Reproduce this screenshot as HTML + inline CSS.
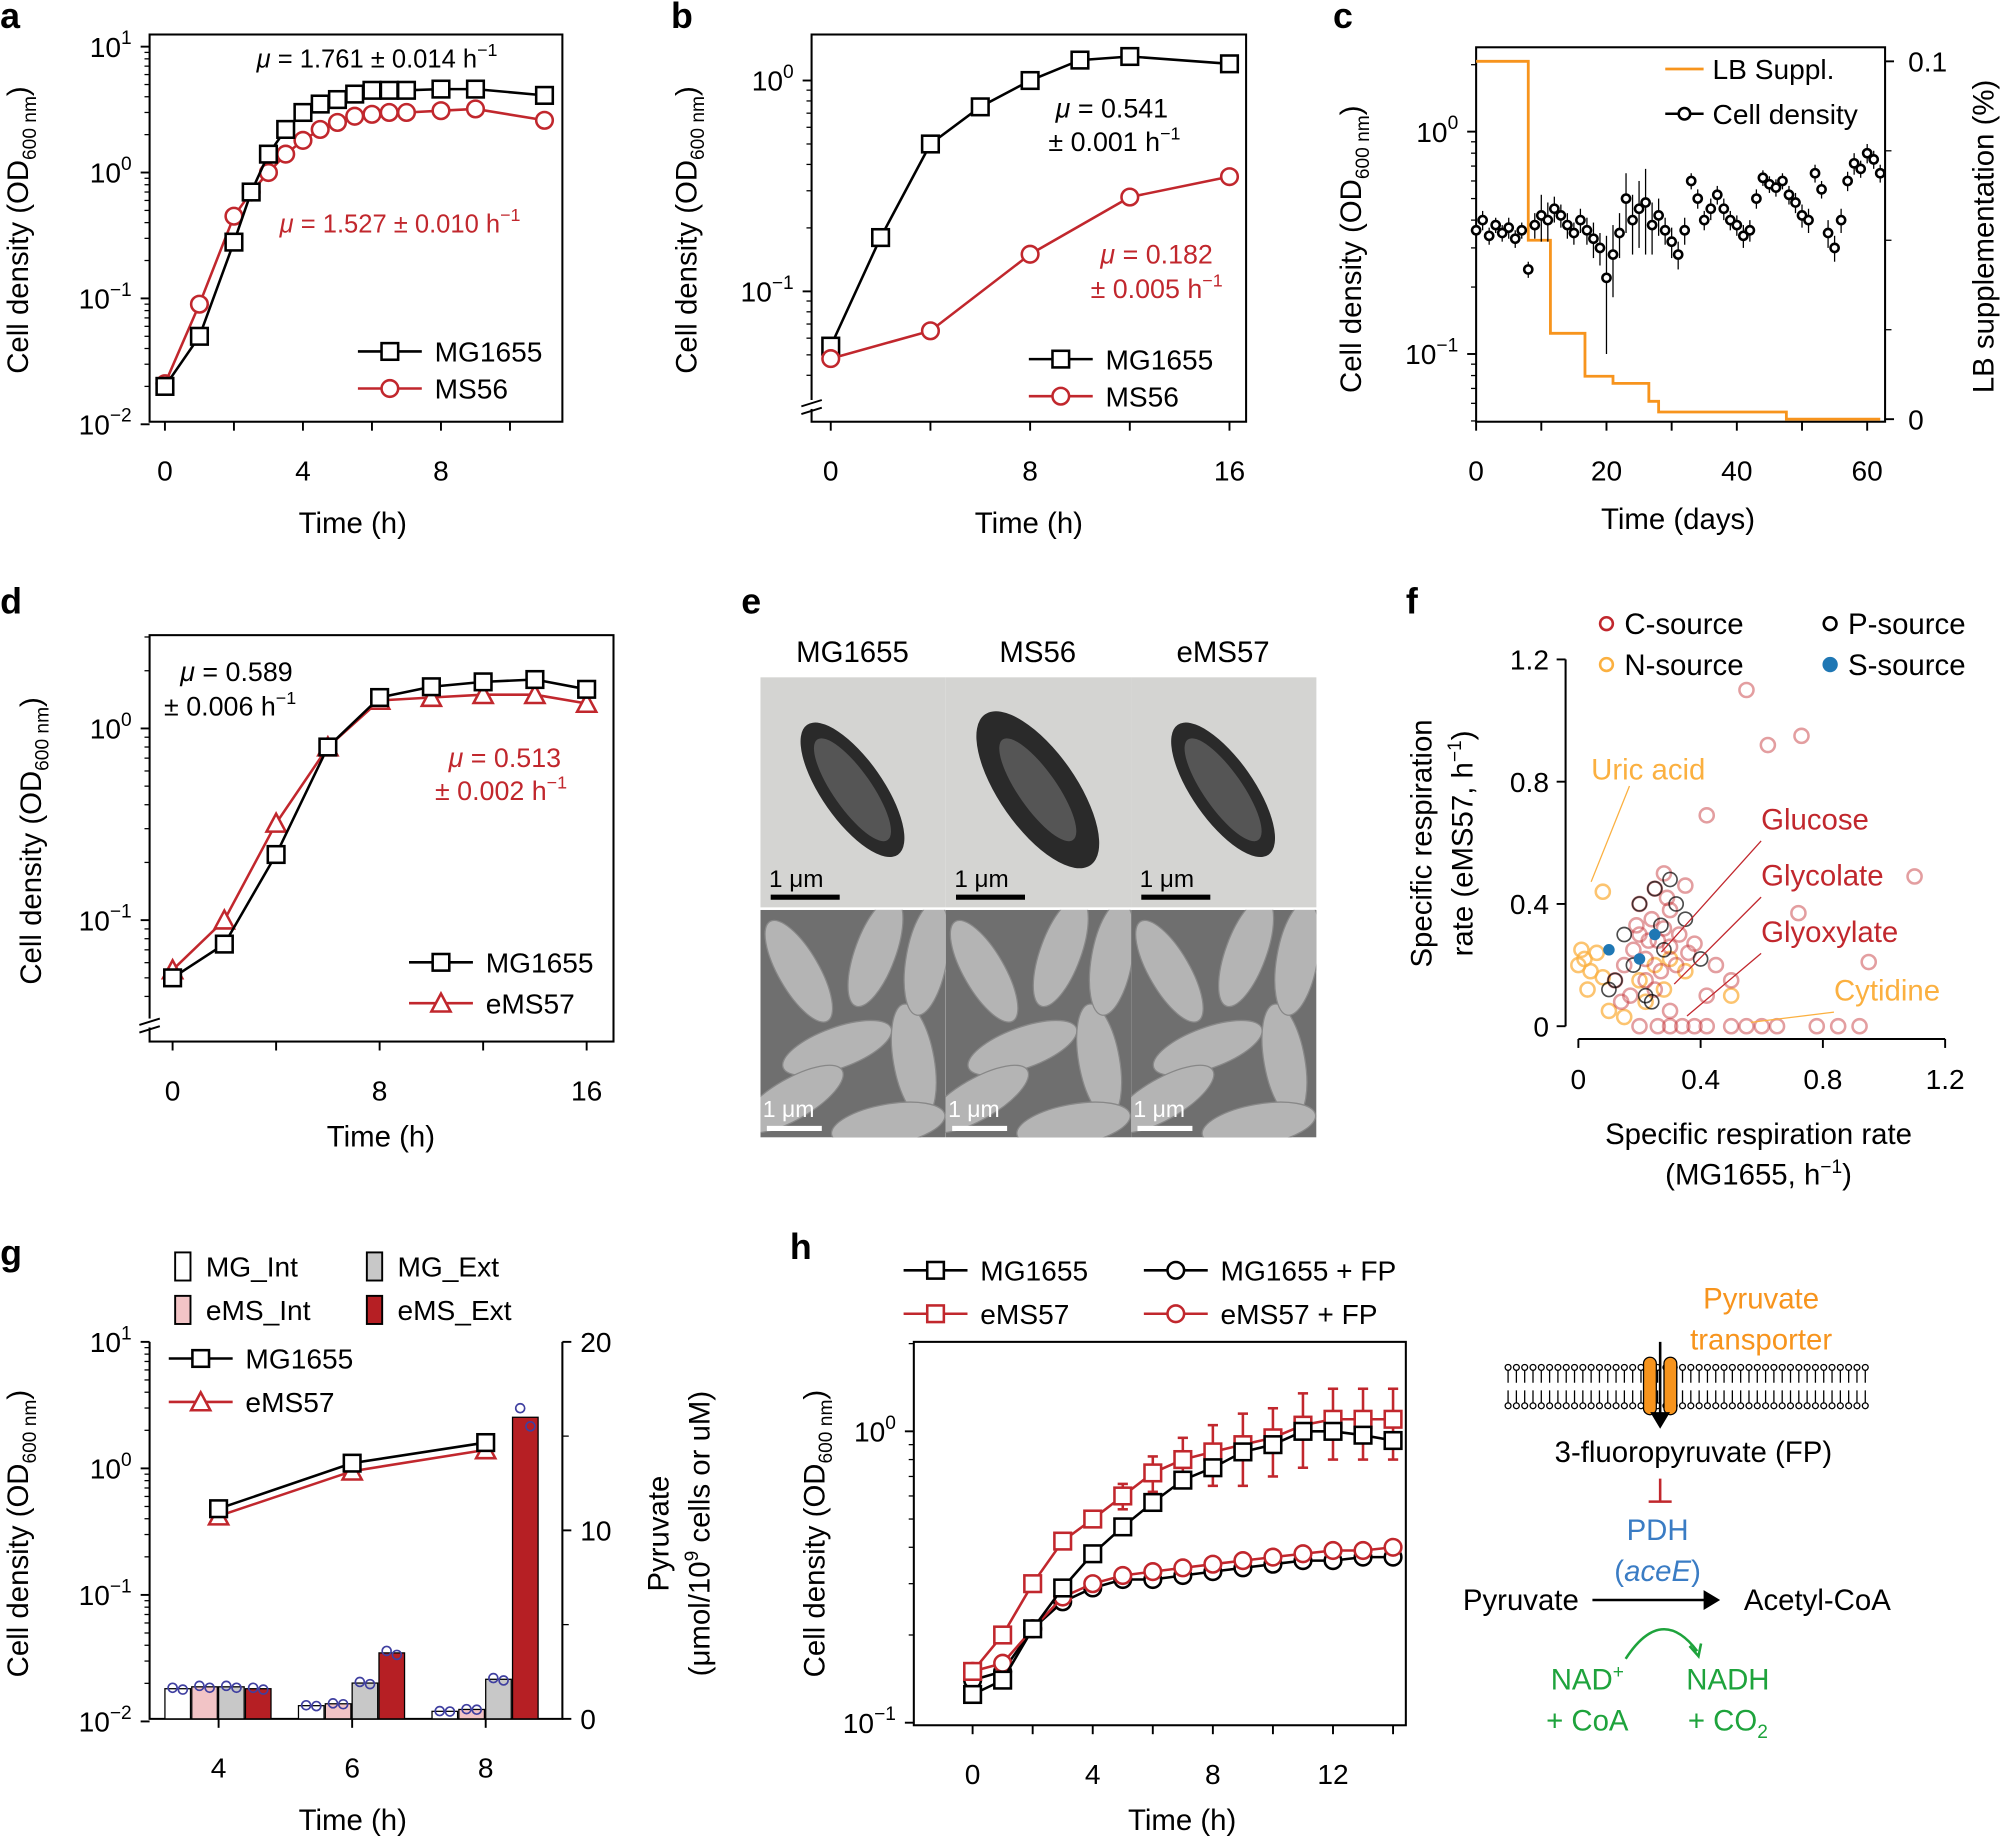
<!DOCTYPE html>
<html><head><meta charset="utf-8"><style>
html,body{margin:0;padding:0;background:#fff}
svg{display:block;font-family:"Liberation Sans",Arial,sans-serif}
</style></head><body>
<svg id="fig" xmlns="http://www.w3.org/2000/svg" width="2004" height="1839" viewBox="0 0 1568 1439"></svg>
<script>
// ---------- data ----------
const aT=[0,1,2,2.5,3,3.5,4,4.5,5,5.5,6,6.5,7,8,9,11];
const aMG=[0.02,0.05,0.28,0.7,1.4,2.2,3,3.5,3.8,4.2,4.5,4.5,4.5,4.6,4.6,4.1];
const aMS=[0.021,0.09,0.45,0.7,1.0,1.4,1.8,2.2,2.5,2.8,2.9,3.0,3.0,3.1,3.2,2.6];
const bT1=[0,2,4,6,8,10,12,16];
const bMG=[0.055,0.18,0.5,0.75,1.0,1.25,1.3,1.2];
const bT2=[0,4,8,12,16];
const bMS=[0.048,0.065,0.15,0.28,0.35];
const cStepT=[0,8,11.4,16.7,21,26.5,28,47.6,62];
const cStepV=[0.1,0.05,0.024,0.012,0.01,0.005,0.002,0,0];
const cDay=[0,1,2,3,4,5,6,7,8,9,10,11,12,13,14,15,16,17,18,19,20,21,22,23,24,25,26,27,28,29,30,31,32,33,34,35,36,37,38,39,40,41,42,43,44,45,46,47,48,49,50,51,52,53,54,55,56,57,58,59,60,61,62];
const cOD=[0.36,0.4,0.34,0.38,0.35,0.37,0.33,0.36,0.24,0.38,0.42,0.4,0.45,0.42,0.38,0.35,0.4,0.36,0.33,0.3,0.22,0.28,0.35,0.5,0.4,0.45,0.48,0.38,0.42,0.36,0.32,0.28,0.36,0.6,0.5,0.4,0.45,0.52,0.45,0.4,0.38,0.34,0.36,0.5,0.62,0.58,0.56,0.6,0.52,0.48,0.42,0.4,0.65,0.55,0.35,0.3,0.4,0.6,0.72,0.68,0.8,0.75,0.65];
const cErr=[0.03,0.04,0.03,0.03,0.03,0.04,0.03,0.03,0.02,0.05,0.1,0.08,0.06,0.05,0.05,0.04,0.05,0.05,0.06,0.05,0.12,0.1,0.08,0.15,0.12,0.15,0.2,0.1,0.08,0.05,0.05,0.04,0.05,0.05,0.05,0.04,0.05,0.05,0.05,0.04,0.04,0.04,0.04,0.05,0.05,0.05,0.05,0.05,0.05,0.05,0.05,0.05,0.06,0.05,0.05,0.04,0.05,0.06,0.08,0.06,0.08,0.07,0.06];
const dT=[0,2,4,6,8,10,12,14,16];
const dMG=[0.05,0.075,0.22,0.8,1.45,1.65,1.75,1.8,1.6];
const dEMS=[0.055,0.1,0.32,0.8,1.4,1.45,1.5,1.5,1.35];
const fCx=[0.15,0.18,0.2,0.22,0.24,0.26,0.28,0.3,0.32,0.2,0.22,0.25,0.27,0.3,0.17,0.19,0.23,0.29,0.33,0.36,0.38,0.42,0.55,0.62,0.73,1.1,0.42,0.72,0.95,0.28,0.35,0.25,0.3,0.45,0.5,0.2,0.26,0.3,0.34,0.38,0.42,0.5,0.55,0.6,0.65,0.78,0.85,0.92,0.12,0.14];
const fCy=[0.2,0.25,0.3,0.22,0.35,0.28,0.32,0.26,0.2,0.4,0.15,0.45,0.18,0.38,0.1,0.33,0.28,0.42,0.3,0.24,0.27,0.69,1.1,0.92,0.95,0.49,0.1,0.37,0.21,0.5,0.46,0.12,0.05,0.2,0.15,0,0,0,0,0,0,0,0,0,0,0,0,0,0.15,0.08];
const fNx=[0.08,0.0,0.02,0.04,0.06,0.08,0.01,0.03,0.2,0.25,0.3,0.35,0.22,0.28,0.5,0.1,0.15];
const fNy=[0.44,0.2,0.22,0.18,0.24,0.16,0.25,0.12,0.15,0.2,0.22,0.18,0.08,0.12,0.1,0.05,0.03];
const fPx=[0.15,0.2,0.25,0.3,0.35,0.18,0.22,0.28,0.32,0.12,0.1,0.4,0.27,0.24];
const fPy=[0.3,0.4,0.45,0.48,0.35,0.2,0.1,0.25,0.4,0.15,0.12,0.22,0.33,0.08];
const fSx=[0.1,0.25,0.2];
const fSy=[0.25,0.3,0.22];
const gT=[4,6,8];
const gMGInt=[1.6,0.7,0.4];
const gEMSInt=[1.7,0.8,0.5];
const gMGExt=[1.7,1.9,2.1];
const gEMSExt=[1.6,3.5,16];
const gMG=[0.48,1.1,1.6];
const gEMS=[0.42,0.95,1.4];
const hT=[0,1,2,3,4,5,6,7,8,9,10,11,12,13,14];
const hMG=[0.125,0.14,0.21,0.29,0.38,0.47,0.57,0.68,0.75,0.85,0.9,1.0,1.0,0.97,0.93];
const hEMS=[0.15,0.2,0.3,0.42,0.5,0.6,0.72,0.8,0.85,0.9,0.95,1.05,1.1,1.1,1.1];
const hEMSerr=[0.01,0.01,0.02,0.03,0.04,0.06,0.1,0.15,0.2,0.25,0.25,0.3,0.3,0.3,0.3];
const hMGFP=[0.14,0.15,0.21,0.26,0.29,0.31,0.31,0.32,0.33,0.34,0.35,0.36,0.36,0.37,0.37];
const hEMSFP=[0.15,0.16,0.21,0.27,0.3,0.32,0.33,0.34,0.35,0.36,0.37,0.38,0.39,0.39,0.4];

// ---------- helpers ----------
const NS='http://www.w3.org/2000/svg';const svg=document.getElementById('fig');
const RED='#c1272d',OR='#f7941d';
function E(tag,at,name,p){const el=document.createElementNS(NS,tag);for(const k in at)el.setAttribute(k,at[k]);


(p||svg).appendChild(el);return el;}
function T(x,y,s,name,o){o=o||{};const el=E('text',{x:x,y:y,'font-size':o.fs||22,'text-anchor':o.a||'middle',fill:o.c||'#000','font-weight':o.b?'bold':'normal',transform:o.r?`rotate(-90 ${x} ${y})`:''},name);el.innerHTML=s;return el;}
function lin(d0,p0,d1,p1){return v=>p0+(v-d0)*(p1-p0)/(d1-d0);}
function lg(e0,p0,ppd){return v=>p0-(Math.log10(v)-e0)*ppd;}
function box(x0,y0,x1,y1,name){E('rect',{x:x0,y:y0,width:x1-x0,height:y1-y0,fill:'none',stroke:'#000','stroke-width':1.6},name);}
function line(xs,ys,X,Y,col,name){E('polyline',{points:xs.map((t,i)=>X(t)+','+Y(ys[i])).join(' '),fill:'none',stroke:col,'stroke-width':2},name);}
function mark(type,x,y,col,name,s){s=s||6.5;
 if(type==='s')E('rect',{x:x-s,y:y-s,width:2*s,height:2*s,fill:'#fff',stroke:col,'stroke-width':2},name);
 else if(type==='c')E('circle',{cx:x,cy:y,r:s,fill:'#fff',stroke:col,'stroke-width':2},name);
 else E('polygon',{points:`${x},${y-s-1} ${x+s+1},${y+s} ${x-s-1},${y+s}`,fill:'#fff',stroke:col,'stroke-width':2},name);}
function series(xs,ys,X,Y,col,type,name,s){line(xs,ys,X,Y,col,name+'-line');xs.forEach((t,i)=>mark(type,X(t),Y(ys[i]),col,name+'-marker',s));}
function xt(X,y,vals,name,lab){vals.forEach(v=>{E('line',{x1:X(v),x2:X(v),y1:y,y2:y+7,stroke:'#000','stroke-width':1.5},name+'-tick');if(lab)T(X(v),y+46,v,name+'-label');});}
function ytL(Y,x,exps,name){exps.forEach(e=>{E('line',{x1:x-7,x2:x,y1:Y(Math.pow(10,e)),y2:Y(Math.pow(10,e)),stroke:'#000','stroke-width':1.5},name+'-tick');T(x-14,Y(Math.pow(10,e))+8,`10<tspan font-size="15" dy="-10">${e<0?'−'+(-e):e}</tspan>`,name+'-label',{a:'end'});});}
function minor(Y,x,exps,name,top,bot){exps.forEach(e=>{for(let k=2;k<10;k++){const y=Y(k*Math.pow(10,e));if(y<top||y>bot)continue;E('line',{x1:x-4,x2:x,y1:y,y2:y,stroke:'#000','stroke-width':1},name);}});}
function legend(x,y,col,type,label,name){E('line',{x1:x-25,x2:x+25,y1:y,y2:y,stroke:col,'stroke-width':2},name+'-line');mark(type,x,y,col,name+'-marker');T(x+35,y+8,label,name+'-label',{a:'start'});}
const OD='Cell density (OD<tspan font-size="15" dy="6">600 nm</tspan><tspan dy="-6">)</tspan>';

// ---------- panel a ----------
T(0,22,'a','panel-a-letter',{a:'start',fs:28,b:1});
{const X=lin(0,129,8,345),Y=lg(-2,332,98.5);box(117,27,440,330,'panel-a-plot-area');
xt(X,330,[0,4,8],'a-x',1);xt(X,330,[2,6,10],'a-x-minor',0);ytL(Y,117,[-2,-1,0,1],'a-y');minor(Y,117,[-2,-1,0],'a-y-minor',27,330);
T(276,417,'Time (h)','a-x-title',{fs:23});T(22,180,OD,'a-y-title',{fs:23,r:1});
series(aT,aMS,X,Y,RED,'c','a-ms56');series(aT,aMG,X,Y,'#000','s','a-mg1655');
T(295,53,'<tspan font-style="italic">μ</tspan> = 1.761 ± 0.014 h<tspan font-size="14" dy="-9">−1</tspan>','a-mu-mg',{fs:20});
T(313,182,'<tspan font-style="italic">μ</tspan> = 1.527 ± 0.010 h<tspan font-size="14" dy="-9">−1</tspan>','a-mu-ms',{fs:20,c:RED});
legend(305,275,'#000','s','MG1655','a-legend-mg');legend(305,304,RED,'c','MS56','a-legend-ms');}

// ---------- panel b ----------
T(525,22,'b','panel-b-letter',{a:'start',fs:28,b:1});
{const X=lin(0,650,16,962),Y=lg(0,63,165);box(635,27,975,330,'panel-b-plot-area');
xt(X,330,[0,8,16],'b-x',1);xt(X,330,[4,12],'b-x-minor',0);ytL(Y,635,[-1,0],'b-y');minor(Y,635,[-2,-1,0],'b-y-minor',27,310);
E('rect',{x:625,y:313,width:20,height:7,fill:'#fff'},'b-axis-break-gap');
E('path',{d:'M627,318 l16,-5 M627,324 l16,-5',stroke:'#000','stroke-width':1.5},'b-axis-break');
T(805,417,'Time (h)','b-x-title',{fs:23});T(545,180,OD,'b-y-title',{fs:23,r:1});
series(bT1,bMG,X,Y,'#000','s','b-mg1655');series(bT2,bMS,X,Y,RED,'c','b-ms56');
T(870,92,'<tspan font-style="italic">μ</tspan> = 0.541','b-mu-mg1',{fs:21});T(872,118,'± 0.001 h<tspan font-size="14" dy="-9">−1</tspan>','b-mu-mg2',{fs:21});
T(905,206,'<tspan font-style="italic">μ</tspan> = 0.182','b-mu-ms1',{fs:21,c:RED});T(905,233,'± 0.005 h<tspan font-size="14" dy="-9">−1</tspan>','b-mu-ms2',{fs:21,c:RED});
legend(830,281,'#000','s','MG1655','b-legend-mg');legend(830,310,RED,'c','MS56','b-legend-ms');}

// ---------- panel c ----------
T(1043,22,'c','panel-c-letter',{a:'start',fs:28,b:1});
{const X=lin(0,1155,60,1461),Y=lg(0,103,174),YR=lin(0,328,0.1,48);box(1155,37,1475,330,'panel-c-plot-area');
xt(X,330,[0,20,40,60],'c-x',1);xt(X,330,[10,30,50],'c-x-minor',0);ytL(Y,1155,[-1,0],'c-y');minor(Y,1155,[-2,-1,0],'c-y-minor',37,330);
[0,0.1].forEach(v=>{E('line',{x1:1475,x2:1482,y1:YR(v),y2:YR(v),stroke:'#000','stroke-width':1.5},'c-yr-tick');T(1493,YR(v)+8,v,'c-yr-label',{a:'start'});});
[0.025,0.05,0.075].forEach(v=>E('line',{x1:1475,x2:1480,y1:YR(v),y2:YR(v),stroke:'#000','stroke-width':1},'c-yr-minor'));
T(1313,414,'Time (days)','c-x-title',{fs:23});T(1065,195,OD,'c-y-title',{fs:23,r:1});T(1560,185,'LB supplementation (%)','c-yr-title',{fs:23,r:1});
let p='';cStepT.forEach((t,i)=>{if(i===0)p+=`M${X(t)},${YR(cStepV[0])}`;else p+=` H${Math.min(X(t),1474)} V${YR(cStepV[i])}`;});
E('path',{d:p,fill:'none',stroke:OR,'stroke-width':2.2},'c-lb-step-line');
cDay.forEach((d,i)=>{E('line',{x1:X(d),x2:X(d),y1:Y(cOD[i]+cErr[i]),y2:Y(Math.max(cOD[i]-cErr[i],0.05)),stroke:'#000','stroke-width':1},'c-errorbar');mark('c',X(d),Y(cOD[i]),'#000','c-density-point',3.2);});
E('line',{x1:1303,x2:1333,y1:54,y2:54,stroke:OR,'stroke-width':2.2},'c-legend-lb-line');T(1340,62,'LB Suppl.','c-legend-lb-label',{a:'start'});
E('line',{x1:1303,x2:1333,y1:89,y2:89,stroke:'#000','stroke-width':2},'c-legend-cd-line');mark('c',1318,89,'#000','c-legend-cd-marker',4.5);T(1340,97,'Cell density','c-legend-cd-label',{a:'start'});}

// ---------- panel d ----------
T(0,480,'d','panel-d-letter',{a:'start',fs:28,b:1});
{const X=lin(0,135,16,459),Y=lg(0,570,150);box(117,497,480,815,'panel-d-plot-area');
xt(X,815,[0,8,16],'d-x',1);xt(X,815,[4,12],'d-x-minor',0);ytL(Y,117,[-1,0],'d-y');minor(Y,117,[-2,-1,0],'d-y-minor',497,795);
E('rect',{x:107,y:797,width:20,height:7,fill:'#fff'},'d-axis-break-gap');
E('path',{d:'M109,802 l16,-5 M109,808 l16,-5',stroke:'#000','stroke-width':1.5},'d-axis-break');
T(298,897,'Time (h)','d-x-title',{fs:23});T(32,658,OD,'d-y-title',{fs:23,r:1});
series(dT,dEMS,X,Y,RED,'t','d-ems57');series(dT,dMG,X,Y,'#000','s','d-mg1655');
T(185,533,'<tspan font-style="italic">μ</tspan> = 0.589','d-mu-mg1',{fs:21});T(180,560,'± 0.006 h<tspan font-size="14" dy="-9">−1</tspan>','d-mu-mg2',{fs:21});
T(395,600,'<tspan font-style="italic">μ</tspan> = 0.513','d-mu-ems1',{fs:21,c:RED});T(392,626,'± 0.002 h<tspan font-size="14" dy="-9">−1</tspan>','d-mu-ems2',{fs:21,c:RED});
legend(345,753,'#000','s','MG1655','d-legend-mg');legend(345,785,RED,'t','eMS57','d-legend-ems');}

// ---------- panel e ----------
T(580,480,'e','panel-e-letter',{a:'start',fs:28,b:1});
{const defs=E('defs',{},'e-defs');
['MG1655','MS56','eMS57'].forEach((n,i)=>{const x0=595+i*145;
const cp=E('clipPath',{id:'semclip'+i},'e-clip',defs);E('rect',{x:x0,y:712,width:145,height:178},'e-clip-rect',cp);
T(x0+72,518,n,'e-strain-label',{fs:23});
E('rect',{x:x0,y:530,width:145,height:180,fill:'#d4d4d2'},'e-tem-image');
E('ellipse',{cx:x0+72,cy:618,rx:24+(i==1?6:0),ry:62+(i==1?10:0),fill:'#2a2a2a',transform:`rotate(-35 ${x0+72} 618)`},'e-tem-cell');
E('ellipse',{cx:x0+72,cy:618,rx:15,ry:48,fill:'#555',transform:`rotate(-35 ${x0+72} 618)`},'e-tem-cell-inner');
E('line',{x1:x0+8,x2:x0+62,y1:702,y2:702,stroke:'#000','stroke-width':4},'e-tem-scalebar');T(x0+28,694,'1 μm','e-tem-scale-label',{fs:19});
const g=E('g',{'clip-path':`url(#semclip${i})`},'e-sem-group');
E('rect',{x:x0,y:712,width:145,height:178,fill:'#6f6f6f'},'e-sem-image',g);
[[30,760,-30],[90,745,20],[60,820,70],[120,830,-10],[25,860,60],[100,880,80],[130,750,10]].forEach(c=>E('ellipse',{cx:x0+c[0],cy:c[1],rx:16,ry:45,fill:'#b4b4b4',stroke:'#888',transform:`rotate(${c[2]} ${x0+c[0]} ${c[1]})`},'e-sem-cell',g));
E('line',{x1:x0+5,x2:x0+48,y1:883,y2:883,stroke:'#fff','stroke-width':4},'e-sem-scalebar');T(x0+22,874,'1 μm','e-sem-scale-label',{fs:18,c:'#fff'});});}

// ---------- panel f ----------
T(1100,480,'f','panel-f-letter',{a:'start',fs:28,b:1});
{const X=lin(0,1235,1.2,1522),Y=lin(0,803,1.2,516);
E('path',{d:'M1225,516 V803',stroke:'#000','stroke-width':1.6,fill:'none'},'f-y-axis');E('path',{d:'M1235,813 H1522',stroke:'#000','stroke-width':1.6,fill:'none'},'f-x-axis');
[0,0.4,0.8,1.2].forEach(v=>{E('line',{x1:1218,x2:1225,y1:Y(v),y2:Y(v),stroke:'#000','stroke-width':1.5},'f-y-tick');T(1212,Y(v)+8,v,'f-y-label',{a:'end'});
E('line',{x1:X(v),x2:X(v),y1:813,y2:820,stroke:'#000','stroke-width':1.5},'f-x-tick');T(X(v),852,v,'f-x-label');});
T(1376,895,'Specific respiration rate','f-x-title',{fs:23});T(1376,927,'(MG1655, h<tspan font-size="15" dy="-9">−1</tspan><tspan dy="9">)</tspan>','f-x-title2',{fs:23});
T(1120,660,'Specific respiration','f-y-title',{fs:23,r:1});T(1152,660,'rate (eMS57, h<tspan font-size="15" dy="-9">−1</tspan><tspan dy="9">)</tspan>','f-y-title2',{fs:23,r:1});
fNx.forEach((v,i)=>E('circle',{cx:X(v),cy:Y(fNy[i]),r:5.5,fill:'none',stroke:'#fbb040','stroke-opacity':0.75,'stroke-width':2},'f-n-source-point'));
fCx.forEach((v,i)=>E('circle',{cx:X(v),cy:Y(fCy[i]),r:5.5,fill:'none',stroke:'#c1272d','stroke-opacity':0.45,'stroke-width':2},'f-c-source-point'));
fPx.forEach((v,i)=>E('circle',{cx:X(v),cy:Y(fPy[i]),r:5.5,fill:'none',stroke:'#000','stroke-opacity':0.7,'stroke-width':1.3},'f-p-source-point'));
fSx.forEach((v,i)=>E('circle',{cx:X(v),cy:Y(fSy[i]),r:4.5,fill:'#1f77b4'},'f-s-source-point'));
[[1255,613,1245,690,'Uric acid','#fbb040'],[1388,652,1300,745,'Glucose',RED],[1388,696,1310,770,'Glycolate',RED],[1388,740,1320,795,'Glyoxylate',RED],[1445,786,1370,800,'Cytidine','#fbb040']].forEach(a=>{
E('line',{x1:a[0]+(a[4]=='Uric acid'?20:-10),y1:a[1]+(a[4]=='Uric acid'?2:6),x2:a[2],y2:a[3],stroke:a[5],'stroke-width':1},'f-annotation-line');T(a[0]-10,a[1]-3,a[4],'f-annotation-label',{a:'start',fs:23,c:a[5]});});
[[1257,488,RED,'C-source',0],[1257,520,'#fbb040','N-source',0],[1432,488,'#000','P-source',0],[1432,520,'#1f77b4','S-source',1]].forEach(l=>{
E('circle',{cx:l[0],cy:l[1],r:5,fill:l[4]?l[2]:'none',stroke:l[2],'stroke-width':2},'f-legend-marker');T(l[0]+14,l[1]+8,l[3],'f-legend-label',{a:'start',fs:23});});}

// ---------- panel g ----------
T(0,990,'g','panel-g-letter',{a:'start',fs:28,b:1});
{const X=lin(4,171,8,380),Y=lg(1,1050,99),YR=lin(0,1345,20,1050);
E('path',{d:'M117,1050 V1345 H440 V1050',stroke:'#000','stroke-width':1.6,fill:'none'},'panel-g-axes');
xt(X,1345,[4,6,8],'g-x',1);ytL(Y,117,[-2,-1,0,1],'g-y');minor(Y,117,[-2,-1,0],'g-y-minor',1050,1345);
[0,10,20].forEach(v=>{E('line',{x1:440,x2:447,y1:YR(v),y2:YR(v),stroke:'#000','stroke-width':1.5},'g-yr-tick');T(454,YR(v)+8,v,'g-yr-label',{a:'start'});});
[5,15].forEach(v=>E('line',{x1:440,x2:445,y1:YR(v),y2:YR(v),stroke:'#000','stroke-width':1},'g-yr-minor'));
T(276,1432,'Time (h)','g-x-title',{fs:23});T(22,1200,OD,'g-y-title',{fs:23,r:1});
T(523,1200,'Pyruvate','g-yr-title',{fs:23,r:1});T(555,1200,'(μmol/10<tspan font-size="15" dy="-9">9</tspan><tspan dy="9"> cells or uM)</tspan>','g-yr-title2',{fs:23,r:1});
const bars=[[gMGInt,'#fff','mg-int'],[gEMSInt,'#f2c4c6','ems-int'],[gMGExt,'#c8c8c8','mg-ext'],[gEMSExt,'#b61f24','ems-ext']];
bars.forEach((b,j)=>gT.forEach((t,i)=>{const x=X(t)-42+j*21;E('rect',{x:x,y:YR(b[0][i]),width:20,height:YR(0)-YR(b[0][i]),fill:b[1],stroke:'#000','stroke-width':1},'g-bar-'+b[2]);
E('circle',{cx:x+6,cy:YR(b[0][i]*1.03),r:3.5,fill:'none',stroke:'#3f3fa0','stroke-width':1.3},'g-bar-dot');E('circle',{cx:x+14,cy:YR(b[0][i]*0.97),r:3.5,fill:'none',stroke:'#3f3fa0','stroke-width':1.3},'g-bar-dot');}));
series(gT,gEMS,X,Y,RED,'t','g-ems57');series(gT,gMG,X,Y,'#000','s','g-mg1655');
[[143,991,'#fff','MG_Int'],[293,991,'#c8c8c8','MG_Ext'],[143,1025,'#f2c4c6','eMS_Int'],[293,1025,'#b61f24','eMS_Ext']].forEach(l=>{E('rect',{x:l[0]-6,y:l[1]-11,width:12,height:22,fill:l[2],stroke:'#000','stroke-width':1.5},'g-legend-swatch');T(l[0]+18,l[1]+8,l[3],'g-legend-label',{a:'start'});});
legend(157,1063,'#000','s','MG1655','g-legend-mg');legend(157,1097,RED,'t','eMS57','g-legend-ems');}

// ---------- panel h ----------
T(618,985,'h','panel-h-letter',{a:'start',fs:28,b:1});
{const X=lin(0,761,12,1043),Y=lg(0,1120,228);box(715,1050,1100,1350,'panel-h-plot-area');
xt(X,1350,[0,4,8,12],'h-x',1);xt(X,1350,[2,6,10,14],'h-x-minor',0);ytL(Y,715,[-1,0],'h-y');minor(Y,715,[-1,0],'h-y-minor',1050,1350);
T(925,1432,'Time (h)','h-x-title',{fs:23});T(645,1200,OD,'h-y-title',{fs:23,r:1});
hT.forEach((t,i)=>{if(hEMSerr[i]>0.05){E('line',{x1:X(t),x2:X(t),y1:Y(hEMS[i]+hEMSerr[i]),y2:Y(hEMS[i]-hEMSerr[i]),stroke:RED,'stroke-width':2},'h-ems57-errorbar');E('line',{x1:X(t)-4,x2:X(t)+4,y1:Y(hEMS[i]+hEMSerr[i]),y2:Y(hEMS[i]+hEMSerr[i]),stroke:RED,'stroke-width':2},'h-ems57-errorcap');E('line',{x1:X(t)-4,x2:X(t)+4,y1:Y(hEMS[i]-hEMSerr[i]),y2:Y(hEMS[i]-hEMSerr[i]),stroke:RED,'stroke-width':2},'h-ems57-errorcap');}});
series(hT,hMGFP,X,Y,'#000','c','h-mg1655-fp');series(hT,hEMSFP,X,Y,RED,'c','h-ems57-fp');
series(hT,hEMS,X,Y,RED,'s','h-ems57');series(hT,hMG,X,Y,'#000','s','h-mg1655');
legend(732,994,'#000','s','MG1655','h-legend-mg');legend(732,1028,RED,'s','eMS57','h-legend-ems');
legend(920,994,'#000','c','MG1655 + FP','h-legend-mgfp');legend(920,1028,RED,'c','eMS57 + FP','h-legend-emsfp');}

// ---------- pathway ----------
{for(let x=1180;x<=1465;x+=6.5){E('path',{d:`M${x},1072 v10 M${x},1098 v-10`,stroke:'#000','stroke-width':1},'membrane-lipid-tail');E('circle',{cx:x,cy:1070,r:2.3,fill:'#fff',stroke:'#000','stroke-width':1},'membrane-lipid-head');E('circle',{cx:x,cy:1100,r:2.3,fill:'#fff',stroke:'#000','stroke-width':1},'membrane-lipid-head');}
E('rect',{x:1286,y:1062,width:10,height:45,rx:5,fill:OR,stroke:'#000'},'transporter-left');E('rect',{x:1302,y:1062,width:10,height:45,rx:5,fill:OR,stroke:'#000'},'transporter-right');
E('path',{d:'M1299,1050 V1112 M1293,1106 l6,10 l6,-10 z',stroke:'#000','stroke-width':2,fill:'#000'},'transport-arrow');
T(1378,1024,'Pyruvate','transporter-label1',{fs:23,c:OR});T(1378,1056,'transporter','transporter-label2',{fs:23,c:OR});
T(1325,1144,'3-fluoropyruvate (FP)','fp-label',{fs:23});
E('path',{d:'M1299,1157 V1175 M1290,1175 H1308',stroke:RED,'stroke-width':2,fill:'none'},'fp-inhibition');
T(1297,1205,'PDH','pdh-label',{fs:23,c:'#3a7cc4'});T(1297,1237,'(<tspan font-style="italic">aceE</tspan>)','acee-label',{fs:23,c:'#3a7cc4'});
T(1190,1260,'Pyruvate','pyruvate-label',{fs:23});T(1422,1260,'Acetyl-CoA','acetylcoa-label',{fs:23});
E('path',{d:'M1246,1252 H1340 M1334,1246 l10,6 l-10,6 z',stroke:'#000','stroke-width':2,fill:'#000'},'reaction-arrow');
E('path',{d:'M1272,1298 Q1300,1255 1328,1292 M1322,1288 l7,8 l2,-10',stroke:'#1ea33c','stroke-width':2,fill:'none'},'cofactor-arrow');
T(1242,1322,'NAD<tspan font-size="15" dy="-9">+</tspan>','nad-label',{fs:23,c:'#1ea33c'});T(1242,1354,'+ CoA','coa-label',{fs:23,c:'#1ea33c'});
T(1352,1322,'NADH','nadh-label',{fs:23,c:'#1ea33c'});T(1352,1354,'+ CO<tspan font-size="15" dy="6">2</tspan>','co2-label',{fs:23,c:'#1ea33c'});}
</script>
</body></html>
